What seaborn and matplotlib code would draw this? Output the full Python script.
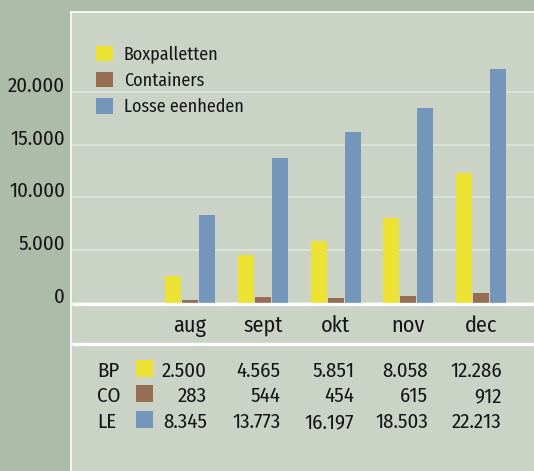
import matplotlib
matplotlib.use("Agg")
import matplotlib.pyplot as plt
import seaborn as sns
import pandas as pd
from matplotlib.patches import Rectangle
from matplotlib.lines import Line2D

# ---- data ----
months = ["aug", "sept", "okt", "nov", "dec"]
series = ["Boxpalletten", "Containers", "Losse eenheden"]
codes = ["BP", "CO", "LE"]
bp = [2500, 4565, 5851, 8058, 12286]
co = [283, 544, 454, 615, 912]
le = [8345, 13773, 16197, 18503, 22213]
yticks = [0, 5000, 10000, 15000, 20000]

# ---- style ----
colors = ["#EBE234", "#966E53", "#7396BA"]
OUTER = "#adbba9"
PANEL = "#cbd3c7"
GRID = "#e3e7df"
TXT = "#161616"
W, H, DPI = 534, 471, 100

sns.set_theme(style="white")
plt.rcParams['font.family'] = ['Fira Sans Condensed', 'DejaVu Sans']


def fmt(v):
    return f"{v:,}".replace(",", ".")


def fx(x):
    return x / W


def fy(y):
    return 1 - y / H


df = pd.DataFrame({
    "maand": months * 3,
    "reeks": sum([[s] * len(months) for s in series], []),
    "waarde": bp + co + le,
})

fig = plt.figure(figsize=(W / DPI, H / DPI), dpi=DPI)
fig.patch.set_facecolor(OUTER)

# panel background
fig.add_artist(Rectangle((fx(72), 0), 1 - fx(72), fy(12), transform=fig.transFigure,
                         facecolor=PANEL, edgecolor='none', zorder=0))

ax_top, ax_bot = 11.8, 302.7
ax = fig.add_axes([fx(72), fy(ax_bot), 1 - fx(72), (ax_bot - ax_top) / H])
ax.set_facecolor('none')

sns.barplot(data=df, x="maand", y="waarde", hue="reeks", order=months,
            hue_order=series, palette=colors, width=0.7, gap=0.06,
            saturation=1, linewidth=0, edgecolor='none', ax=ax, zorder=3)

px_per_unit = (ax_bot - 92.0) / 20000
ax.set_ylim(0, (ax_bot - ax_top) / px_per_unit)
ax.set_xlim(-1.621, 4.725)
ax.set_yticks(yticks)
ax.set_yticklabels([fmt(t) for t in yticks])
for lab in ax.get_yticklabels():
    lab.set_verticalalignment('baseline')
ax.yaxis.grid(True, color=GRID, lw=1.1)
ax.xaxis.grid(False)
ax.set_axisbelow(True)
for s in ax.spines.values():
    s.set_visible(False)
ax.tick_params(axis='y', length=0, pad=5, labelsize=15, labelcolor=TXT)
ax.tick_params(axis='x', length=0, pad=9, labelsize=16, labelcolor=TXT)
ax.set_xlabel('')
ax.set_ylabel('')

# legend
h, l = ax.get_legend_handles_labels()
fs_leg = 13
fs_px = fs_leg * DPI / 72
ax.legend(h, l, loc='upper left', bbox_to_anchor=(fx(96), fy(45.5)),
          bbox_transform=fig.transFigure, frameon=False, fontsize=fs_leg,
          borderpad=0, borderaxespad=0, handlelength=17 / fs_px,
          handleheight=17 / fs_px, handletextpad=0.6, labelspacing=0.47,
          labelcolor=TXT)

# white frame lines
def fline(x0, y0, x1, y1, lw_px):
    fig.add_artist(Line2D([fx(x0), fx(x1)], [fy(y0), fy(y1)], transform=fig.transFigure,
                          color='white', lw=lw_px * 72 / DPI, solid_capstyle='butt', zorder=5))

fline(70.4, 11.8, 534, 11.8, 1.7)
fline(71.2, 11, 71.2, 471, 1.7)
fline(72, 303.8, 534, 303.8, 3.3)
fline(72, 343.7, 534, 343.7, 3.3)

# table
fs_tab = 15
for r, (code, vals, col) in enumerate(zip(codes, [bp, co, le], colors)):
    yb = 376.7 + r * 25.7
    fig.text(fx(97), fy(yb), code, fontsize=fs_tab, ha='left', va='baseline', color=TXT)
    fig.add_artist(Rectangle((fx(136), fy(yb)), 17 / W, 17 / H, transform=fig.transFigure,
                             facecolor=col, edgecolor='none', zorder=4))
    for i, v in enumerate(vals):
        fig.text(fx(207 + i * 73.7), fy(yb), fmt(v), fontsize=fs_tab,
                 ha='right', va='baseline', color=TXT)

fig.savefig('out.png', dpi=DPI, facecolor=fig.get_facecolor())
